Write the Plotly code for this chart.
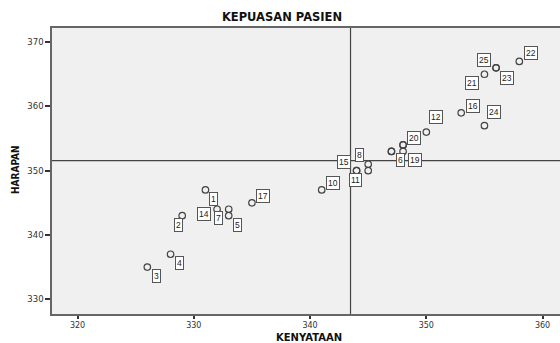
import numpy as np
import plotly.graph_objects as go

case_ids = list(range(1, 26))
kenyataan = [331, 329, 326, 328, 333, 347, 333, 345, 345, 341, 344, 350, 347,
             332, 344, 353, 335, 348, 348, 348, 355, 358, 356, 355, 356]
harapan = [347, 343, 335, 337, 343, 353, 344, 351, 350, 347, 350, 356, 353,
           344, 350, 359, 345, 354, 353, 354, 365, 367, 366, 357, 366]

x_ticks = [320, 330, 340, 350, 360]
y_ticks = [330, 340, 350, 360, 370]

title_text = "KEPUASAN PASIEN"
x_title = "KENYATAAN"
y_title = "HARAPAN"

# label placement (pixel offsets of the case label box from its point); None = hidden
label_offsets = {
    1: (8, 9), 2: (-4, 9), 3: (9, 9), 4: (9, 9), 5: (9, 9), 6: (9, 9),
    7: (-10, 9), 8: (-9, -9), 9: None, 10: (11, -7), 11: (-1, 9),
    12: (10, -15), 13: None, 14: (-13, 5), 15: (-13, -9), 16: (12, -7),
    17: (11, -7), 18: None, 19: (12, 9), 20: (11, -7), 21: (-12, 9),
    22: (12, -8), 23: (11, 10), 24: (10, -14), 25: (-12, -8),
}

mean_x = float(np.mean(kenyataan))
mean_y = float(np.mean(harapan))

L, R, T, B = 52, 0, 28, 29
W, H = 560, 343
pw, ph = W - L - R, H - T - B

fig = go.Figure()
fig.add_trace(go.Scatter(
    x=kenyataan, y=harapan, mode="markers",
    marker=dict(symbol="circle-open", size=6.5, color="#444444", line=dict(width=1.2)),
    hoverinfo="skip", showlegend=False,
))

annotations = []
for cid, xv, yv in zip(case_ids, kenyataan, harapan):
    off = label_offsets.get(cid)
    if off is None:
        continue
    annotations.append(dict(
        x=xv, y=yv, xref="x", yref="y", text=str(cid), showarrow=False,
        xshift=off[0], yshift=-off[1],
        font=dict(family="Liberation Sans, Arial", size=8.5, color="#222222"),
        bgcolor="white", bordercolor="#555555", borderwidth=1, borderpad=1,
    ))

annotations.append(dict(
    x=(309 - L) / pw, y=(H - B - 337.5) / ph, xref="paper", yref="paper",
    text="<b>" + x_title + "</b>", showarrow=False,
    font=dict(family="DejaVu Sans, Arial", size=10, color="#111111"),
    xanchor="center", yanchor="middle",
))
annotations.append(dict(
    x=(15 - L) / pw, y=(H - B - 170) / ph, xref="paper", yref="paper",
    text="<b>" + y_title + "</b>", showarrow=False, textangle=-90,
    font=dict(family="DejaVu Sans Condensed, DejaVu Sans", size=10, color="#111111"),
    xanchor="center", yanchor="middle",
))

shapes = [
    dict(type="line", xref="x", yref="paper", x0=mean_x, x1=mean_x, y0=0, y1=1,
         line=dict(color="#444444", width=1.2)),
    dict(type="line", xref="paper", yref="y", x0=0, x1=1, y0=mean_y, y1=mean_y,
         line=dict(color="#444444", width=1.2)),
]

fig.update_layout(
    width=W, height=H,
    margin=dict(l=L, r=R, t=T, b=B),
    paper_bgcolor="white", plot_bgcolor="#f0f0f0",
    title=dict(text="<b>" + title_text + "</b>", x=282 / W, xanchor="center",
               y=1 - 16.5 / H, yanchor="middle", yref="container",
               font=dict(family="DejaVu Sans, Arial", size=11.5, color="#111111")),
    annotations=annotations, shapes=shapes,
    xaxis=dict(range=[317.8, 361.5], tickvals=x_ticks, ticktext=[str(v) for v in x_ticks],
               showgrid=False, zeroline=False, showline=True, linecolor="#666666", linewidth=1.5,
               mirror=True, ticks="outside", ticklen=3, tickcolor="#333333", tickwidth=1.5,
               tickfont=dict(family="DejaVu Sans, Arial", size=8, color="#333333")),
    yaxis=dict(range=[327.7, 372.2], tickvals=y_ticks, ticktext=[str(v) for v in y_ticks],
               showgrid=False, zeroline=False, showline=True, linecolor="#666666", linewidth=1.5,
               ticks="outside", ticklen=5, tickcolor="#333333", tickwidth=1.5,
               tickfont=dict(family="DejaVu Sans, Arial", size=8.5, color="#333333")),
)

fig.write_html(
    "out.html",
    config={"displayModeBar": False},
    post_script="document.body.style.margin='0';document.body.style.overflow='hidden';",
)
